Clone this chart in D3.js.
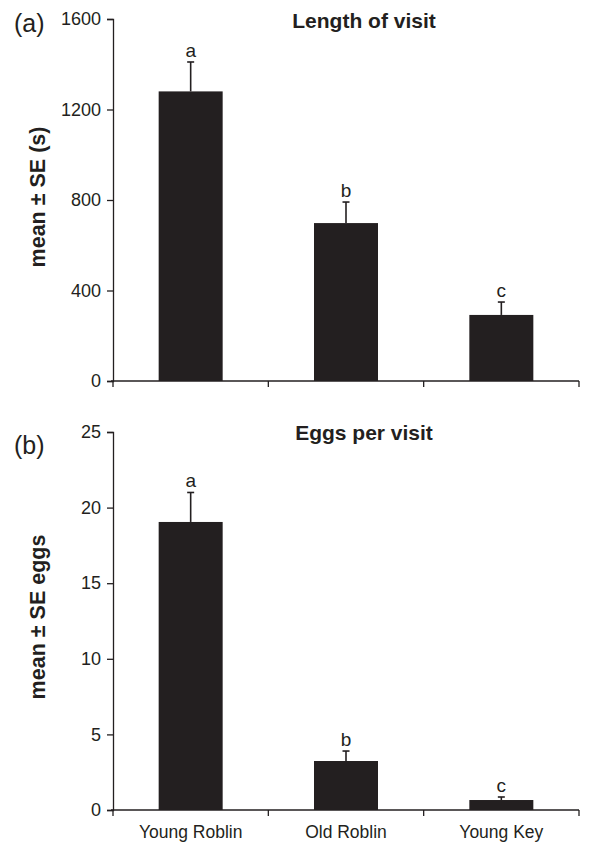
<html>
<head>
  <title>Visits</title>
  <script src="https://d3js.org/d3.v7.min.js"></script>
  <style>
    body { margin: 0; background: #fff; }
    text { font-family: "Liberation Sans", Arial, sans-serif; fill: #231f20; }
  </style>
</head>
<body>
<script>
  var categories = ["Young Roblin", "Old Roblin", "Young Key"];

  // panel (a) length of visit, seconds
  var visitMean = [1280, 698, 292];
  var visitSE = [130, 93, 57];
  var visitTicks = [0, 400, 800, 1200, 1600];
  var visitLetters = ["a", "b", "c"];

  // panel (b) eggs per visit
  var eggsMean = [19.05, 3.24, 0.66];
  var eggsSE = [1.95, 0.66, 0.2];
  var eggsTicks = [0, 5, 10, 15, 20, 25];
  var eggsLetters = ["a", "b", "c"];

  var ink = "#231f20";

  var svg = d3.select("body").append("svg")
      .attr("width", 616)
      .attr("height", 842);

  var x = d3.scaleBand()
      .domain(categories)
      .range([113, 579])
      .paddingInner(0.588)
      .paddingOuter(0.294);

  function panel(opts) {
    var y = d3.scaleLinear().domain([0, opts.max]).range([opts.bottom, opts.top]);
    var g = svg.append("g");

    // y axis
    var yAxis = g.append("g")
        .attr("transform", "translate(113,0)")
        .call(d3.axisLeft(y).tickValues(opts.ticks).tickFormat(d3.format("d")).tickSize(6).tickPadding(6));
    yAxis.select(".domain").attr("stroke", ink).attr("stroke-width", 1.3);
    yAxis.selectAll(".tick line").attr("stroke", ink).attr("stroke-width", 1.3);
    yAxis.selectAll(".tick text")
        .attr("font-size", 18)
        .attr("fill", ink);

    // x axis: line with ticks at band boundaries
    var bounds = [x.range()[0]].concat(categories.map(function(c){ return x(c) - x.step() * x.paddingInner() / 2 + x.step(); }));
    g.append("line")
        .attr("x1", 111).attr("x2", x.range()[1])
        .attr("y1", y(0)).attr("y2", y(0))
        .attr("stroke", ink).attr("stroke-width", 1.3);
    g.selectAll(".xtick").data(bounds).enter().append("line")
        .attr("x1", function(d){ return d; }).attr("x2", function(d){ return d; })
        .attr("y1", y(0)).attr("y2", y(0) + 6)
        .attr("stroke", ink).attr("stroke-width", 1.3);

    // bars
    g.selectAll(".bar").data(opts.mean).enter().append("rect")
        .attr("x", function(d, i){ return x(categories[i]); })
        .attr("width", x.bandwidth())
        .attr("y", function(d){ return y(d); })
        .attr("height", function(d){ return y(0) - y(d); })
        .attr("fill", ink);

    // error bars (upper only)
    g.selectAll(".err").data(opts.mean).enter().append("line")
        .attr("x1", function(d, i){ return x(categories[i]) + x.bandwidth() / 2; })
        .attr("x2", function(d, i){ return x(categories[i]) + x.bandwidth() / 2; })
        .attr("y1", function(d){ return y(d); })
        .attr("y2", function(d, i){ return y(d + opts.se[i]); })
        .attr("stroke", ink).attr("stroke-width", 1.6);
    g.selectAll(".cap").data(opts.mean).enter().append("line")
        .attr("x1", function(d, i){ return x(categories[i]) + x.bandwidth() / 2 - 3.5; })
        .attr("x2", function(d, i){ return x(categories[i]) + x.bandwidth() / 2 + 3.5; })
        .attr("y1", function(d, i){ return y(d + opts.se[i]); })
        .attr("y2", function(d, i){ return y(d + opts.se[i]); })
        .attr("stroke", ink).attr("stroke-width", 1.6);

    // significance letters
    g.selectAll(".letter").data(opts.mean).enter().append("text")
        .attr("x", function(d, i){ return x(categories[i]) + x.bandwidth() / 2; })
        .attr("y", function(d, i){ return y(d + opts.se[i]) - 5; })
        .attr("text-anchor", "middle")
        .attr("font-size", 19)
        .text(function(d, i){ return opts.letters[i]; });

    // title, panel tag, y label
    g.append("text")
        .attr("x", 364).attr("y", opts.top + opts.titleDy)
        .attr("text-anchor", "middle")
        .attr("font-size", 21).attr("font-weight", "bold")
        .text(opts.title);
    g.append("text")
        .attr("x", 14).attr("y", opts.top + opts.tagDy)
        .attr("font-size", 25)
        .text(opts.tag);
    g.append("text")
        .attr("transform", "translate(45," + opts.labelY + ") rotate(-90)")
        .attr("text-anchor", "middle")
        .attr("font-size", 21.5).attr("font-weight", "bold")
        .text(opts.ylabel);

    return y;
  }

  panel({
    top: 19, bottom: 381, max: 1600, ticks: visitTicks,
    mean: visitMean, se: visitSE, letters: visitLetters,
    title: "Length of visit", tag: "(a)", ylabel: "mean \u00b1 SE (s)",
    titleDy: 9, tagDy: 13, labelY: 197
  });

  panel({
    top: 432, bottom: 810, max: 25, ticks: eggsTicks,
    mean: eggsMean, se: eggsSE, letters: eggsLetters,
    title: "Eggs per visit", tag: "(b)", ylabel: "mean \u00b1 SE eggs",
    titleDy: 8, tagDy: 22, labelY: 617
  });

  // category labels under the lower panel
  svg.selectAll(".cat").data(categories).enter().append("text")
      .attr("x", function(d){ return x(d) + x.bandwidth() / 2; })
      .attr("y", 838)
      .attr("text-anchor", "middle")
      .attr("font-size", 17.5)
      .text(function(d){ return d; });
</script>
</body>
</html>
